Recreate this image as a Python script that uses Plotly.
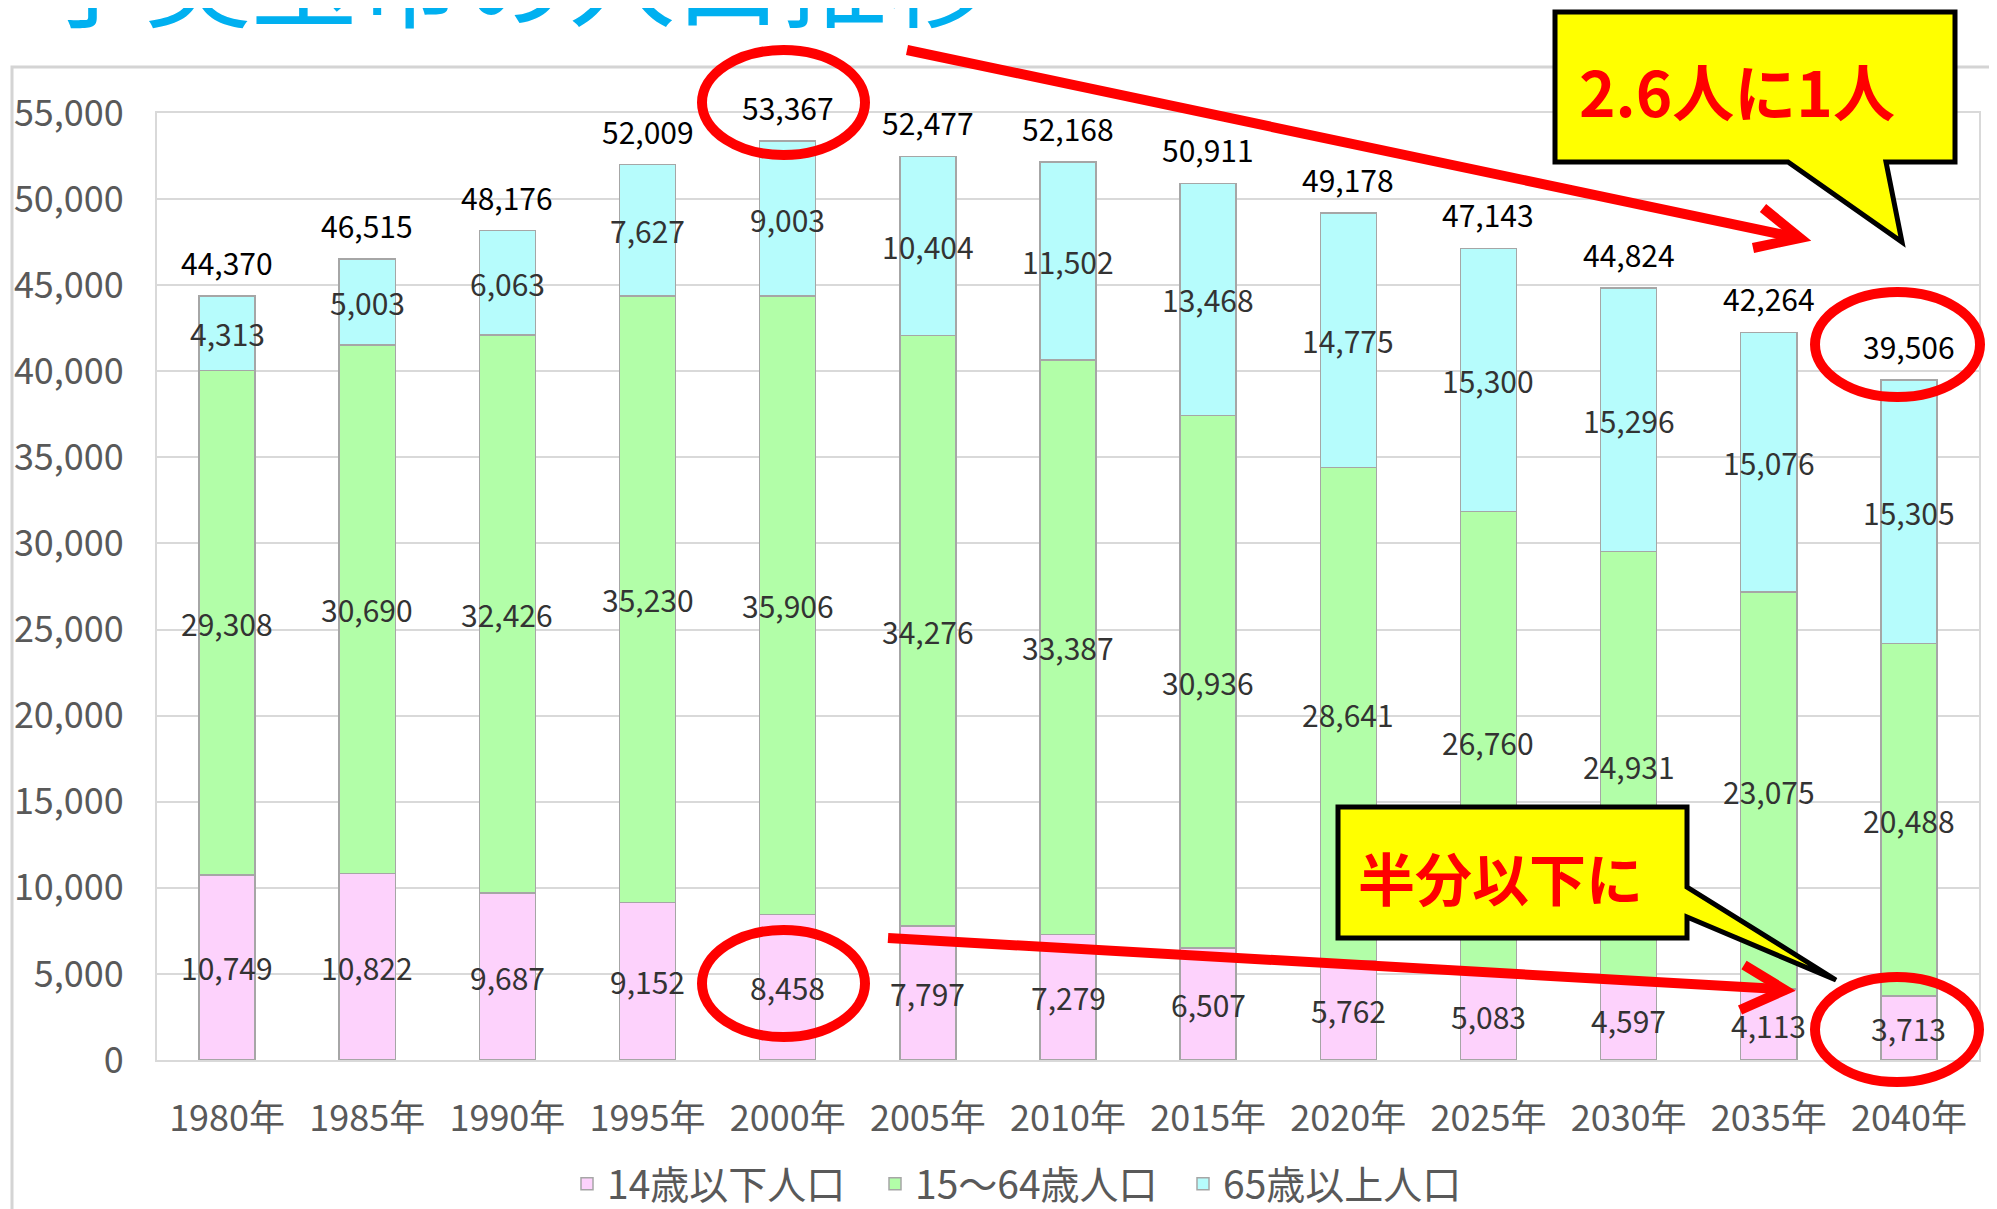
import plotly.graph_objects as go

years = ["1980年", "1985年", "1990年", "1995年", "2000年", "2005年", "2010年",
         "2015年", "2020年", "2025年", "2030年", "2035年", "2040年"]
pop_0_14 = [10749, 10822, 9687, 9152, 8458, 7797, 7279, 6507, 5762, 5083, 4597, 4113, 3713]
pop_15_64 = [29308, 30690, 32426, 35230, 35906, 34276, 33387, 30936, 28641, 26760, 24931, 23075, 20488]
pop_65 = [4313, 5003, 6063, 7627, 9003, 10404, 11502, 13468, 14775, 15300, 15296, 15076, 15305]
totals = [44370, 46515, 48176, 52009, 53367, 52477, 52168, 50911, 49178, 47143, 44824, 42264, 39506]
series_names = ["14歳以下人口", "15～64歳人口", "65歳以上人口"]
title_text = "小美玉市の人口推移"
callout_top = "2.6人に1人"
callout_bottom = "半分以下に"

# page offset (default body margin of the html page)
OFF = 8
SW, SH = 1997, 1209           # screen size
W, H = SW - OFF, SH - OFF     # figure size
L, R, T, B = 157, 1979, 113, 1060   # plot area in screen pixels
FONT = "Noto Sans CJK JP"


def xp(px):
    return (px - L) / (R - L)


def yp(py):
    return (B - py) / (B - T)


colors = ["#FDD2FC", "#B2FEA8", "#B6FCFC"]

fig = go.Figure()
for name, vals, c in zip(series_names, [pop_0_14, pop_15_64, pop_65], colors):
    fig.add_trace(go.Bar(x=years, y=vals, name=name,
                         marker=dict(color=c, line=dict(color="#A6A6A6", width=1.5)),
                         hoverinfo="skip"))

annotations = []
# segment labels
base = [0] * len(years)
for vals in [pop_0_14, pop_15_64, pop_65]:
    for i, v in enumerate(vals):
        annotations.append(dict(x=years[i], y=base[i] + v / 2, xref="x", yref="y",
                                text=f"{v:,}", showarrow=False,
                                xanchor="center", yanchor="middle",
                                font=dict(size=30, color="#333333", family=FONT)))
        base[i] += v
# total labels
for i, t in enumerate(totals):
    annotations.append(dict(x=years[i], y=t, xref="x", yref="y", yshift=34,
                            text=f"{t:,}", showarrow=False,
                            xanchor="center", yanchor="middle",
                            font=dict(size=30, color="#000000", family=FONT)))

# title (partially cut at top)
annotations.append(dict(x=xp(516), y=yp(-27), xref="paper", yref="paper",
                        text=title_text, showarrow=False, xanchor="center", yanchor="middle",
                        font=dict(size=106, color="#00B0F0", family=FONT)))
# callout texts
annotations.append(dict(x=xp(1737), y=yp(90), xref="paper", yref="paper",
                        text=f"<b>{callout_top}</b>", showarrow=False,
                        xanchor="center", yanchor="middle",
                        font=dict(size=62, color="#FF0000", family=FONT)))
annotations.append(dict(x=xp(1500), y=yp(876), xref="paper", yref="paper",
                        text=f"<b>{callout_bottom}</b>", showarrow=False,
                        xanchor="center", yanchor="middle",
                        font=dict(size=57, color="#FF0000", family=FONT)))


def path(points):
    return "M " + " L ".join(f"{xp(a):.5f},{yp(b):.5f}" for a, b in points) + " Z"


def open_path(points):
    return "M " + " L ".join(f"{xp(a):.5f},{yp(b):.5f}" for a, b in points)


shapes = []
# outer chart border
shapes.append(dict(type="rect", xref="paper", yref="paper", x0=xp(12), x1=xp(2020),
                   y0=yp(67), y1=yp(1240), line=dict(color="#D4D4D4", width=3),
                   fillcolor="rgba(0,0,0,0)", layer="below"))
# callout boxes
shapes.append(dict(type="path", xref="paper", yref="paper",
                   path=path([(1555, 12), (1955, 12), (1955, 162), (1886, 162), (1902, 242),
                              (1788, 162), (1555, 162)]),
                   fillcolor="#FFFF00", line=dict(color="#000000", width=5), layer="above"))
shapes.append(dict(type="path", xref="paper", yref="paper",
                   path=path([(1338, 807), (1687, 807), (1687, 887), (1836, 980), (1687, 917),
                              (1687, 938), (1338, 938)]),
                   fillcolor="#FFFF00", line=dict(color="#000000", width=5), layer="above"))
# red ellipses
for x0, x1, y0, y1 in [(702, 865, 50, 155), (702, 865, 930, 1037),
                       (1815, 1980, 292, 397), (1815, 1979, 977, 1082)]:
    shapes.append(dict(type="circle", xref="paper", yref="paper",
                       x0=xp(x0), x1=xp(x1), y0=yp(y0), y1=yp(y1),
                       line=dict(color="#FF0000", width=10), layer="above"))
# red arrows
for (sx, sy), (tx, ty), a1, a2 in [((907, 50), (1800, 238), (1763, 208), (1753, 248)),
                                   ((888, 938), (1785, 990), (1744, 965), (1740, 1010))]:
    shapes.append(dict(type="line", xref="paper", yref="paper",
                       x0=xp(sx), y0=yp(sy), x1=xp(tx - 6), y1=yp(ty - 1),
                       line=dict(color="#FF0000", width=10), layer="above"))
    shapes.append(dict(type="path", xref="paper", yref="paper",
                       path=open_path([a1, (tx, ty), a2]),
                       line=dict(color="#FF0000", width=10), layer="above"))

fig.update_layout(
    template="none",
    barmode="stack",
    bargap=0.6,
    width=W, height=H,
    autosize=False,
    margin=dict(l=L - OFF, r=SW - R, t=T - OFF, b=SH - B, pad=0, autoexpand=False),
    paper_bgcolor="white",
    plot_bgcolor="white",
    font=dict(family=FONT, color="#595959"),
    showlegend=True,
    legend=dict(orientation="h", xref="container", yref="container",
                x=(567 - OFF) / W, y=(SH - 1184) / H, xanchor="left", yanchor="middle",
                font=dict(size=39, color="#595959", family=FONT),
                bgcolor="rgba(0,0,0,0)", traceorder="normal", entrywidth=263),
    xaxis=dict(showgrid=False, showline=True, linecolor="#D9D9D9", linewidth=2, mirror=True,
               ticks="", tickfont=dict(size=36, color="#595959", family=FONT),
               ticklabelstandoff=26, fixedrange=True, automargin=False),
    yaxis=dict(range=[0, 55000], dtick=5000, tickformat=",", showgrid=True,
               gridcolor="#D9D9D9", gridwidth=2, showline=True, linecolor="#D9D9D9",
               linewidth=2, mirror=True, zeroline=False, ticks="",
               tickfont=dict(size=36, color="#595959", family=FONT),
               ticklabelstandoff=24, fixedrange=True, automargin=False),
    annotations=annotations,
    shapes=shapes,
)

fig.write_html("out.html")
